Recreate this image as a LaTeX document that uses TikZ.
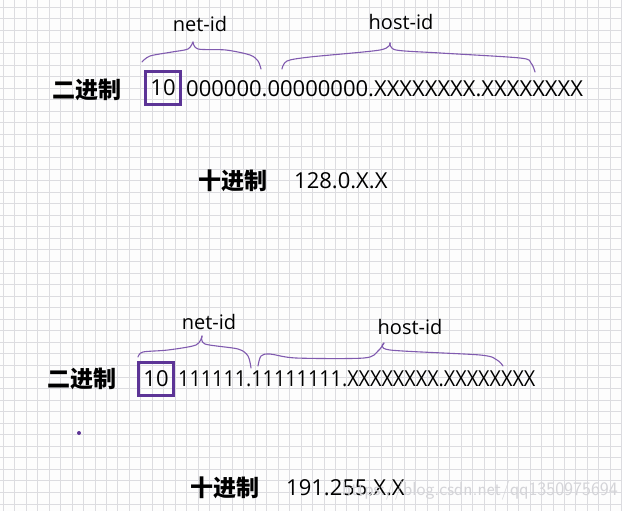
\documentclass[tikz,border=0pt]{standalone}
\usepackage{fontspec}
\usepackage{graphicx}
\usepackage{tikz}
\usetikzlibrary{positioning}
\newfontfamily\cjk{Noto Sans CJK SC}
\newfontfamily\hand{Open Sans}
\definecolor{gridgray}{RGB}{220,220,224}
\definecolor{paper}{RGB}{253,253,253}
\definecolor{bracepurple}{RGB}{128,90,175}
\definecolor{boxpurple}{RGB}{92,52,150}
\definecolor{markgray}{RGB}{212,212,216}

\begin{document}
\begin{tikzpicture}[
  x=1pt, y=-1pt,
  gridline/.style={gridgray, line width=0.8pt},
  base/.style={font=\cjk\bfseries\fontsize{23}{23}\selectfont, inner sep=0pt},
  bits/.style={font=\hand\fontsize{22}{22}\selectfont, inner sep=0pt, anchor=west},
  bitbox/.style={draw=boxpurple, line width=3.2pt, font=\hand\fontsize{22}{22}\selectfont,
                 minimum width=35pt, minimum height=33pt, inner sep=0pt},
  idlabel/.style={font=\hand\fontsize{20}{20}\selectfont, inner sep=0pt},
  curly/.style={bracepurple, line width=1.1pt, line cap=round, line join=round}
]
% paper with grid
\useasboundingbox (0,0) rectangle (622,511);
\fill[paper] (0,0) rectangle (622,511);
\begin{scope}
  \clip (0,0) rectangle (622,511);
  \foreach \gx in {0,...,54}
    \draw[gridline] ({3.3+11.45*\gx},0) -- ++(0,511);
  \foreach \gy in {0,...,44}
    \draw[gridline] (0,{7.3+11.55*\gy}) -- ++(622,0);
\end{scope}

% first address: 128.x.x.x
\node[base] (bin1) at (87,90) {二进制};
\node[bitbox] (pre1) at (163,88) {10};
\node[bits] (rest1) at (186,89) {000000.00000000.XXXXXXXX.XXXXXXXX};
\node[idlabel] (nid1) at (200,24) {net-id};
\node[idlabel] (hid1) at (401,22) {host-id};
\draw[curly] plot[smooth] coordinates {(142,62) (150,56) (172,52) (188,49) (193,42)};
\draw[curly] plot[smooth] coordinates {(193,42) (198,49) (226,50) (250,55) (258,61) (261,69)};
\draw[curly] plot[smooth] coordinates {(282,69) (287,61) (310,57) (380,50) (390,43)};
\draw[curly] plot[smooth] coordinates {(390,43) (396,50) (440,53) (520,58) (531,63) (535,72)};
\node[base] (dec1) at (233,181) {十进制};
\node[bits] (val1) at (294,181) {128.0.X.X};

% second address: 191.255.x.x
\node[base] (bin2) at (82,379) {二进制};
\node[bitbox] (pre2) at (156,379) {10};
\node[bits] (rest2) at (178,379) {\scalebox{0.9}[1]{111111.11111111.XXXXXXXX.XXXXXXXX}};
\node[idlabel] (nid2) at (209,322) {net-id};
\node[idlabel] (hid2) at (410,327) {host-id};
\draw[curly] plot[smooth] coordinates {(138,357) (143,352) (168,350) (196,345) (202,336)};
\draw[curly] plot[smooth] coordinates {(202,336) (205,344) (238,349) (248,356) (251,368)};
\draw[curly] plot[smooth] coordinates {(258,366) (261,356) (270,354) (296,358) (364,358) (378,351) (384,343)};
\draw[curly] plot[smooth] coordinates {(384,343) (390,350) (480,355) (497,360) (503,366)};
\fill[boxpurple] (79,433) circle (2pt);
\node[base] (dec2) at (225,488) {十进制};
\node[bits] (val2) at (286,488) {191.255.X.X};

\node[markgray, font=\fontsize{19}{19}\selectfont\sffamily, inner sep=0pt, anchor=east]
  (mark) at (618,491) {https://blog.csdn.net/qq1350975694};
\end{tikzpicture}
\end{document}
